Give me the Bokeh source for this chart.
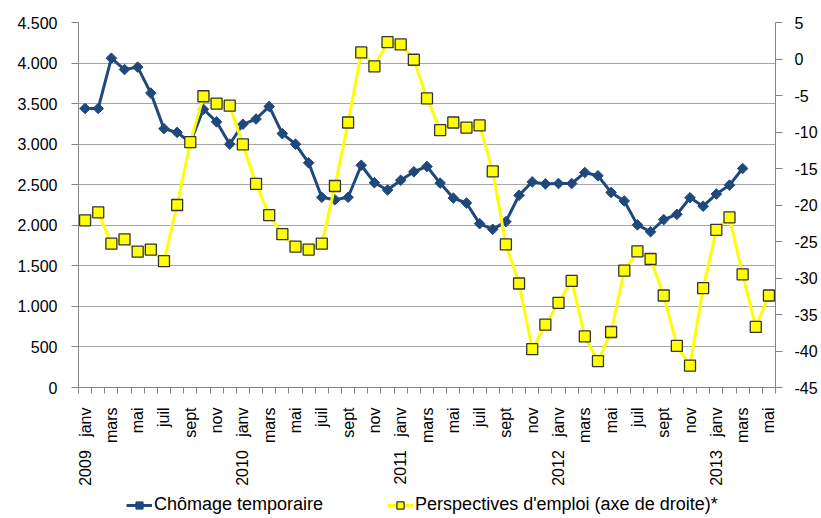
import math
from bokeh.plotting import figure
from bokeh.layouts import column
from bokeh.models import Range1d, LinearAxis, FixedTicker, Legend, LegendItem
from bokeh.embed import file_html
from bokeh.resources import INLINE

# ---- data ----
month_names = ["janv", "févr", "mars", "avr", "mai", "juin",
               "juil", "août", "sept", "oct", "nov", "déc"]
start_year = 2009
n_months = 53  # janv 2009 .. mai 2013

chomage = [3440, 3440, 4060, 3920, 3950, 3630, 3190, 3145, 3020, 3430, 3275, 3000,
           3245, 3310, 3465, 3130, 3000, 2770, 2345, 2315, 2345, 2740, 2525, 2435,
           2555, 2660, 2725, 2520, 2335, 2275, 2020, 1950, 2045, 2370, 2535, 2510,
           2515, 2515, 2650, 2610, 2405, 2300, 2005, 1920, 2070, 2135, 2340, 2235,
           2385, 2495, 2700]

perspectives = [-22.1, -21.0, -25.3, -24.7, -26.4, -26.1, -27.7, -20.0, -11.4, -5.1, -6.1, -6.4,
                -11.7, -17.1, -21.4, -24.0, -25.7, -26.1, -25.3, -17.4, -8.7, 0.9, -1.0, 2.3,
                2.0, -0.1, -5.4, -9.75, -8.7, -9.4, -9.1, -15.4, -25.4, -30.75, -39.75, -36.4,
                -33.4, -30.4, -38.0, -41.4, -37.4, -29.0, -26.35, -27.4, -32.4, -39.3, -42.0, -31.4,
                -23.4, -21.7, -29.5, -36.7, -32.4]

left_ticks = [0, 500, 1000, 1500, 2000, 2500, 3000, 3500, 4000, 4500]
left_labels = ["0", "500", "1.000", "1.500", "2.000", "2.500", "3.000", "3.500", "4.000", "4.500"]
right_ticks = [5, 0, -5, -10, -15, -20, -25, -30, -35, -40, -45]
right_labels = ["5", "0", "-5", "-10", "-15", "-20", "-25", "-30", "-35", "-40", "-45"]

series1_name = "Chômage temporaire"
series2_name = "Perspectives d'emploi (axe de droite)*"

# ---- derived ----
x_all = list(range(n_months))
x_chom = x_all[:len(chomage)]
x_labels = {}
for i in x_all:
    m = i % 12
    y = start_year + i // 12
    if m % 2 == 0:
        if m == 0:
            x_labels[i] = f"{y}\u00a0\u00a0\u00a0{month_names[m]}"
        else:
            x_labels[i] = month_names[m]
    else:
        x_labels[i] = ""

FONT = "Liberation Sans"
FS = "16px"
LEG_FS = "18px"
BLUE = "#1F497D"
YELLOW = "#FFFF00"
GRID = "#A6A6A6"
AXIS = "#868686"
MARKER_EDGE = "#333333"

p = figure(width=821, height=490, output_backend="svg", toolbar_location=None,
           x_range=Range1d(-0.5, n_months - 0.5), y_range=Range1d(0, 4500),
           min_border_left=78, min_border_right=46, min_border_top=22, min_border_bottom=103)
p.outline_line_color = None
p.background_fill_color = "white"
p.border_fill_color = "white"
p.extra_y_ranges = {"right": Range1d(-45, 5)}

p.xgrid.grid_line_color = None
p.ygrid.grid_line_color = GRID
p.ygrid.grid_line_width = 1
p.ygrid.ticker = FixedTicker(ticks=left_ticks)

# left axis
ya = p.yaxis[0]
ya.ticker = FixedTicker(ticks=left_ticks)
ya.major_label_overrides = {t: l for t, l in zip(left_ticks, left_labels)}
ya.axis_line_color = AXIS
ya.major_tick_line_color = AXIS
ya.major_tick_out = 7
ya.major_tick_in = 0
ya.minor_tick_line_color = None
ya.major_label_standoff = 14
ya.major_label_text_font = FONT
ya.major_label_text_font_size = FS
ya.major_label_text_color = "black"

# right axis
ra = LinearAxis(y_range_name="right")
ra.ticker = FixedTicker(ticks=right_ticks)
ra.major_label_overrides = {t: l for t, l in zip(right_ticks, right_labels)}
ra.axis_line_color = AXIS
ra.major_tick_line_color = AXIS
ra.major_tick_out = 7
ra.major_tick_in = 0
ra.minor_tick_line_color = None
ra.major_label_standoff = 12
ra.major_label_text_font = FONT
ra.major_label_text_font_size = FS
ra.major_label_text_color = "black"
p.add_layout(ra, "right")

# bottom axis
xa = p.xaxis[0]
xa.ticker = FixedTicker(ticks=x_all, minor_ticks=[i - 0.5 for i in range(n_months + 1)])
xa.major_label_overrides = x_labels
xa.major_label_orientation = math.pi / 2
xa.axis_line_color = AXIS
xa.major_tick_line_color = None
xa.major_tick_out = 0
xa.major_tick_in = 0
xa.minor_tick_line_color = AXIS
xa.minor_tick_out = 6
xa.minor_tick_in = 0
xa.major_label_standoff = 14
xa.major_label_text_font = FONT
xa.major_label_text_font_size = FS
xa.major_label_text_color = "black"

# series
p.line(x_chom, chomage, line_color=BLUE, line_width=3)
p.scatter(x_chom, chomage, marker="square", angle=math.pi / 4, size=7.5,
          fill_color=BLUE, line_color=BLUE, line_width=1)
p.line(x_all, perspectives, line_color=YELLOW, line_width=3, y_range_name="right")
p.scatter(x_all, perspectives, marker="square", size=11, fill_color=YELLOW,
          line_color=MARKER_EDGE, line_width=1.3, y_range_name="right")

# legend strip (separate figure; renderers hold only a NaN point so they just provide legend glyphs)
nan = [float("nan")]
lg = figure(width=821, height=28, output_backend="svg", toolbar_location=None,
            x_range=Range1d(0, 1), y_range=Range1d(0, 1),
            min_border_left=0, min_border_right=0, min_border_top=0, min_border_bottom=0)
lg.outline_line_color = None
lg.axis.visible = False
lg.grid.visible = False
l1 = lg.line(nan, nan, line_color=BLUE, line_width=3)
s1 = lg.scatter(nan, nan, marker="square", angle=math.pi / 4, size=6.5,
                fill_color=BLUE, line_color=BLUE, line_width=1)
l2 = lg.line(nan, nan, line_color=YELLOW, line_width=3)
s2 = lg.scatter(nan, nan, marker="square", size=9, fill_color=YELLOW,
                line_color=MARKER_EDGE, line_width=1.3)

legend = Legend(items=[LegendItem(label=series1_name, renderers=[l1, s1]),
                       LegendItem(label=series2_name, renderers=[l2, s2])],
                orientation="horizontal", location=(48, 3))
legend.border_line_color = None
legend.background_fill_alpha = 0
legend.label_text_font = FONT
legend.label_text_font_size = LEG_FS
legend.label_text_color = "black"
legend.glyph_width = 26
legend.glyph_height = 18
legend.label_standoff = 2
legend.spacing = 64
legend.padding = 0
legend.margin = 0
lg.add_layout(legend, "center")

layout = column(p, lg, spacing=0)
open("out.html", "w").write(file_html(layout, INLINE))
